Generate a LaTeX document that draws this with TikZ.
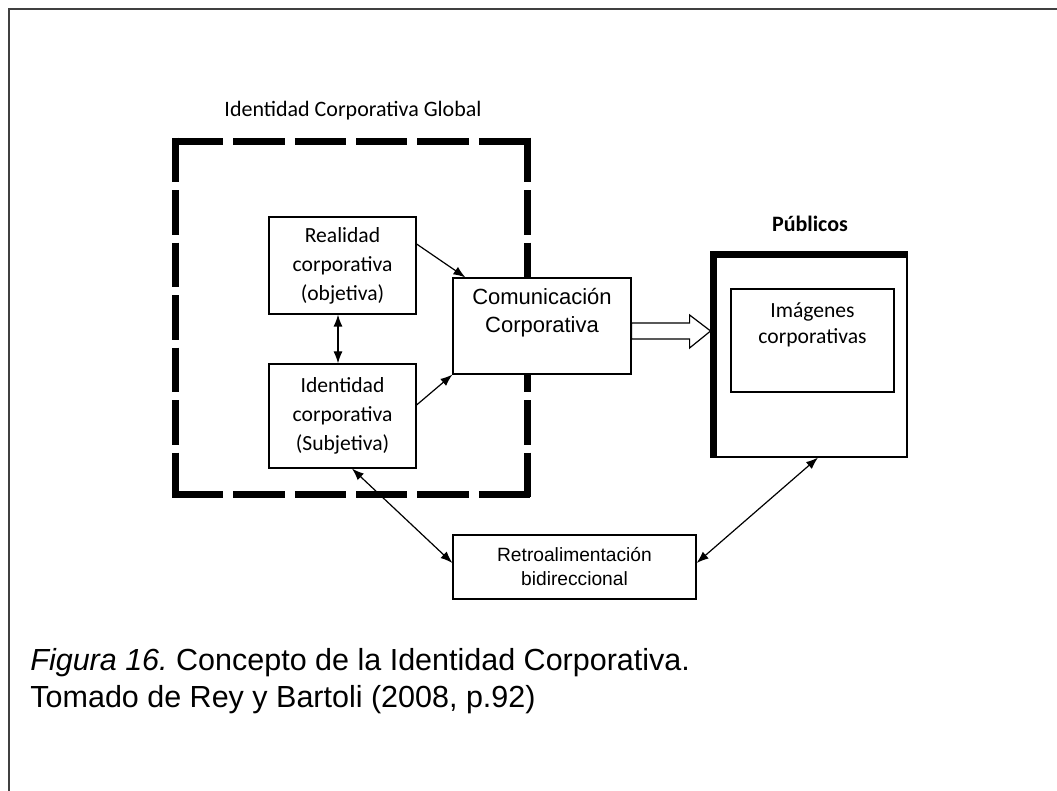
\documentclass[tikz,border=0pt]{standalone}
\usepackage{fontspec}
\setmainfont{Liberation Sans}
\newfontfamily\cfont{Carlito}
\usetikzlibrary{arrows.meta}
\frenchspacing
\tikzset{
  box/.style={draw, line width=0.6pt, fill=white, align=center, inner sep=0pt},
  cbox/.style={box, font=\cfont\fontsize{10.8}{14.5}\selectfont},
  abox/.style={box, font=\fontsize{11}{14}\selectfont},
  gframe/.style={line width=3.5pt},
  con/.style={line width=0.6pt, -{Latex[length=6pt,width=4.5pt]}},
  dcon/.style={line width=0.6pt, {Latex[length=6pt,width=4.5pt]}-{Latex[length=6pt,width=4.5pt]}},
  hollow/.style={draw, line width=0.6pt, fill=white, line join=miter},
  ttl/.style={font=\cfont\fontsize{11}{13}\selectfont, anchor=base, inner sep=0pt},
}

\begin{document}
\begin{tikzpicture}[x=0.5pt, y=-0.5pt]
      \useasboundingbox (0,0) rectangle (1057,791);
      % page frame
      \draw[line width=1.2pt, black!75] (9,791) |- (1057,9);

      % the global identity block
      \node[minimum width=175.5pt, minimum height=176.25pt, inner sep=0pt] (glob) at (351.5,317.75) {};
      \node[ttl] (globtitle) at (353,117) {Identidad Corporativa Global};
      \draw[gframe, dash pattern=on 25.67pt off 5pt] ([xshift=-1.75pt]glob.north west) -- ([xshift=1.75pt]glob.north east);
      \draw[gframe, dash pattern=on 25.67pt off 5pt] ([xshift=-1.75pt]glob.south west) -- ([xshift=1.75pt]glob.south east);
      \draw[gframe, dash pattern=on 22.25pt off 4pt] ([yshift=1.75pt]glob.north west) -- ([yshift=-1.75pt]glob.south west);
      \draw[gframe, dash pattern=on 22.25pt off 4pt] ([yshift=1.75pt]glob.north east) -- ([yshift=-1.75pt]glob.south east);

      \node[cbox, minimum width=73.5pt, minimum height=48.5pt] (real) at (342.5,265.5) {Realidad\\corporativa\\(objetiva)};
      \node[cbox, minimum width=73.5pt, minimum height=52pt] (ident) at (342.5,416) {Identidad\\corporativa\\(Subjetiva)};
      \node[abox, minimum width=89pt, minimum height=48pt] (com) at (542,326) {Comunicación\\Corporativa\rule[-16pt]{0pt}{16pt}};

      % the publics
      \node[draw, line width=0.6pt, fill=white, minimum width=98pt, minimum height=102.5pt] (pub) at (809,354.5) {};
      \draw[line width=3.5pt] ([xshift=1.5pt]pub.south west) |- ([yshift=-1.5pt]pub.north east);
      \node[ttl, font=\cfont\bfseries\fontsize{11}{13}\selectfont] (pubtitle) at (810,232) {Públicos};
      \node[cbox, font=\cfont\fontsize{10.8}{13}\selectfont, minimum width=81.5pt, minimum height=51.5pt] (img) at (812.5,340.5) {Imágenes\\corporativas\rule[-17pt]{0pt}{17pt}};

      % feedback
      \node[box, font=\fontsize{9.6}{12}\selectfont, minimum width=121.5pt, minimum height=32pt] (retro) at (574.5,567) {Retroalimentación\\bidireccional};

      \draw[con] ([yshift=10.75pt]real.east) -- ([xshift=6.5pt]com.north west);
      \draw[con] ([yshift=5.5pt]ident.east) -- (com.south west);
      \draw[dcon] ([xshift=-2.25pt]real.south) -- ([xshift=-2.25pt]ident.north);
      \draw[dcon] ([xshift=4.75pt]ident.south) -- ([yshift=2pt]retro.west);
      \draw[dcon] ([xshift=4.5pt]pub.south) -- ([yshift=2pt]retro.east);
      \draw[hollow] ([yshift=1.5pt]com.east) -- ++(58,0) -- ++(0,-8) -- ++(21,16) -- ++(-21,17) -- ++(0,-9) -- ++(-58,0) -- cycle;

      % caption
      \node[anchor=north west, align=left, inner sep=0pt, font=\fontsize{15.25}{18.5}\selectfont] (caption) at (30,648)
        {{\itshape Figura 16.} Concepto de la Identidad Corporativa.\\Tomado de Rey y Bartoli (2008, p.92)};
\end{tikzpicture}
\end{document}
